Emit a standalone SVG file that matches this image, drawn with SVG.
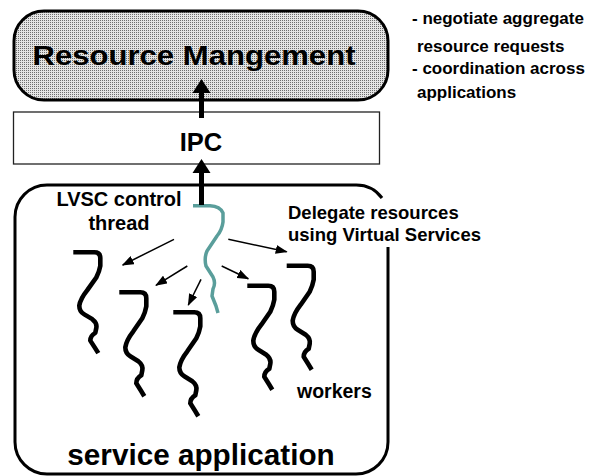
<svg xmlns="http://www.w3.org/2000/svg" xmlns:xlink="http://www.w3.org/1999/xlink" width="589" height="476" viewBox="0 0 589 476">
  <style>
    text { font-family: "Liberation Sans", Arial, sans-serif; font-weight: bold; fill: #000; }
    .worker { fill: none; stroke: #000; stroke-width: 4.6; stroke-linejoin: round; stroke-linecap: butt; }
    .ctrl { fill: none; stroke: #5a9e9b; stroke-width: 3.5; stroke-linejoin: round; }
    .thin { fill: none; stroke: #000; stroke-width: 1.5; marker-end: url(#head); }
    .big { fill: none; stroke: #000; stroke-width: 5; }
  </style>
  <defs>
    <pattern id="dots" width="2" height="2" patternUnits="userSpaceOnUse">
      <rect width="2" height="2" fill="#e4e4e4"/>
      <rect width="1" height="1" fill="#6e6e6e"/>
    </pattern>
    <marker id="head" markerWidth="12" markerHeight="9" refX="11" refY="4.5" orient="auto" markerUnits="userSpaceOnUse">
      <path d="M0,0 L12,4.5 L0,9 Z" fill="#000"/>
    </marker>
    <!-- one worker thread, drawn from its top-left end -->
    <path id="thread" class="worker" d="M0,0 L21,0 Q27,0 27,6 L27,14 Q26,20 23,26 L14,39 Q7,48 6,55 Q6,61 11,64 L19,69 Q24,73 23,78 L22,83 Q17,86 17,91 L22,99 L25,104"/>
  </defs>

  <rect width="589" height="476" fill="#fff"/>

  <!-- Resource management -->
  <g id="resource">
    <rect x="14" y="11" width="374" height="89" rx="30" ry="30" fill="url(#dots)" stroke="#000" stroke-width="3"/>
    <text x="194" y="65" font-size="28.5" text-anchor="middle" textLength="323" lengthAdjust="spacingAndGlyphs">Resource Mangement</text>
  </g>

  <g id="notes" font-size="17">
    <text x="412" y="24">- negotiate aggregate</text>
    <text x="417" y="52">resource requests</text>
    <text x="412" y="74">- coordination across</text>
    <text x="417" y="98">applications</text>
  </g>

  <!-- IPC layer -->
  <g id="ipc">
    <rect x="13.5" y="112" width="366" height="52" fill="#fff" stroke="#222" stroke-width="1.3"/>
    <text x="201" y="151" font-size="25.5" text-anchor="middle">IPC</text>
  </g>

  <!-- service application container -->
  <g id="service">
    <path d="M382,198 A32,32 0 0 0 356,185 L47,185 A32,32 0 0 0 15,217 L15,442 A32,32 0 0 0 47,474 L356,474 A32,32 0 0 0 388,442 L388,247" fill="none" stroke="#000" stroke-width="3"/>
    <text x="201" y="465" font-size="29.7" text-anchor="middle">service application</text>
    <text x="119" y="206" font-size="20" text-anchor="middle">LVSC control</text>
    <text x="119" y="230" font-size="20" text-anchor="middle">thread</text>
    <text x="288" y="219" font-size="18.5">Delegate resources</text>
    <text x="288" y="241" font-size="18.5">using Virtual Services</text>
    <text x="297" y="398" font-size="19.5">workers</text>
  </g>

  <g id="control-thread">
    <path class="ctrl" d="M193,205.7 L210,205.7 Q220,206 223,213 L223,222 Q222,230 217,236 L207,251 Q204,258 206,266 L213,277 Q216,283 213,289 L212,296 L216,306 L218,313"/>
  </g>

  <g id="worker-1"><use xlink:href="#thread" transform="translate(73.3,252.3) scale(1,0.97)"/></g>
  <g id="worker-2"><use xlink:href="#thread" transform="translate(119.3,292.3)"/></g>
  <g id="worker-3"><use xlink:href="#thread" transform="translate(173.3,312.3)"/></g>
  <g id="worker-4"><use xlink:href="#thread" transform="translate(247.3,285.7)"/></g>
  <g id="worker-5"><use xlink:href="#thread" transform="translate(286.7,265.7)"/></g>

  <!-- connectors -->
  <g id="connectors">
    <line class="big" x1="201.5" y1="118" x2="201.5" y2="92"/>
    <path d="M192.5,93 L201.5,79 L210.5,93 Z" fill="#000"/>
    <line class="big" x1="201.5" y1="205" x2="201.5" y2="172"/>
    <path d="M192.5,173 L201.5,159 L210.5,173 Z" fill="#000"/>
    <line class="thin" x1="174" y1="239.3" x2="122.7" y2="265"/>
    <line class="thin" x1="187.3" y1="266" x2="156" y2="285.3"/>
    <line class="thin" x1="201" y1="279.3" x2="188.3" y2="305"/>
    <line class="thin" x1="221.7" y1="266" x2="248.3" y2="278.7"/>
    <line class="thin" x1="228.3" y1="239.3" x2="286.7" y2="251.7"/>
  </g>
</svg>
